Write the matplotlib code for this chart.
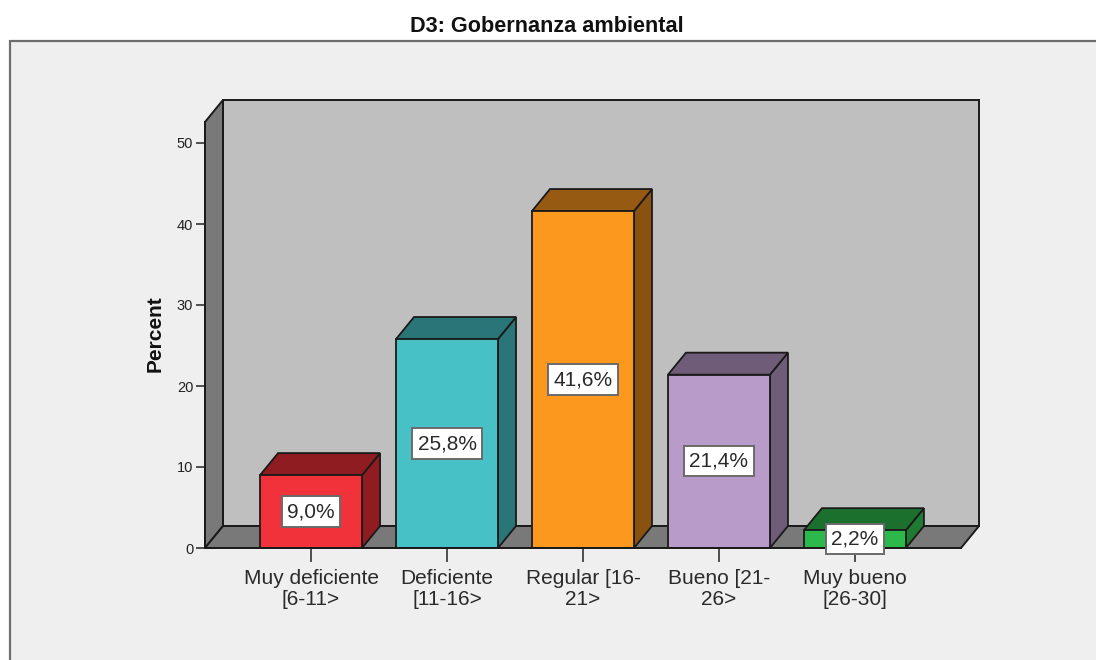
import matplotlib
matplotlib.use('Agg')
from matplotlib import pyplot as plt
from matplotlib.patches import Polygon, Rectangle

categories = ['Muy deficiente\n[6-11>', 'Deficiente\n[11-16>', 'Regular [16-\n21>', 'Bueno [21-\n26>', 'Muy bueno\n[26-30]']
percent = [9.0, 25.8, 41.6, 21.4, 2.2]
front_colors = ['#F2323A', '#48C1C6', '#FD981F', '#B89BC9', '#2DB84B']
top_colors = ['#8E1C20', '#2A7578', '#965A12', '#6E5C78', '#1B702D']
side_colors = ['#8E1C20', '#2A7578', '#8A5210', '#6E5C78', '#1F7A32']
yticks = [0, 10, 20, 30, 40, 50]

W, H = 1096, 660
plt.rcParams['font.family'] = ['Liberation Sans', 'DejaVu Sans']

fig = plt.figure(figsize=(W / 100, H / 100), dpi=100, facecolor='white')

# panel gris de fondo
fig.add_artist(Rectangle((10 / W, -0.01), 1.1, 1 - 41 / H + 0.01, transform=fig.transFigure,
                         facecolor='#EFEFEF', edgecolor='#6E6E6E', linewidth=1.6, zorder=-1))
fig.text(547 / W, 1 - 26 / H, 'D3: Gobernanza ambiental', ha='center', va='center',
         fontsize=15.6, fontweight='bold', color='#111111')

ax = fig.add_axes([205 / W, 1 - 548 / H, 756 / W, 426 / H])
ax.patch.set_alpha(0)
xmin, xmax = -0.78, 4.78
ymax = 426 / 8.1
ax.set_xlim(xmin, xmax)
ax.set_ylim(0, ymax)

# profundidad 3D
dx = 18 / 136
dy = 22 / 8.1
edge = '#1A1A1A'

ax.add_patch(Polygon([(xmin + dx, dy), (xmax + dx, dy), (xmax + dx, ymax + dy), (xmin + dx, ymax + dy)],
                     facecolor='#BFBFBF', edgecolor=edge, linewidth=1.4, clip_on=False, zorder=1))
ax.add_patch(Polygon([(xmin, 0), (xmin + dx, dy), (xmin + dx, ymax + dy), (xmin, ymax)],
                     facecolor='#797979', edgecolor=edge, linewidth=1.4, clip_on=False, zorder=1))
ax.add_patch(Polygon([(xmin, 0), (xmax, 0), (xmax + dx, dy), (xmin + dx, dy)],
                     facecolor='#797979', edgecolor=edge, linewidth=1.4, clip_on=False, zorder=1))

width = 0.75
for i, v in enumerate(percent):
    l, r = i - width / 2, i + width / 2
    ax.add_patch(Polygon([(r, 0), (r + dx, dy), (r + dx, v + dy), (r, v)],
                         facecolor=side_colors[i], edgecolor=edge, linewidth=1.3, clip_on=False, zorder=2))
    ax.add_patch(Polygon([(l, v), (r, v), (r + dx, v + dy), (l + dx, v + dy)],
                         facecolor=top_colors[i], edgecolor=edge, linewidth=1.3, clip_on=False, zorder=2))
    ax.bar(i, v, width=width, color=front_colors[i], edgecolor=edge, linewidth=1.3, zorder=3)
    ax.text(i, v / 2, f'{v:.1f}%'.replace('.', ','), ha='center', va='center', fontsize=15, color='#2A2A2A', zorder=5,
            bbox=dict(boxstyle='square,pad=0.27', facecolor='white', edgecolor='#6A6A6A', linewidth=1.4))

for s in ['top', 'right']:
    ax.spines[s].set_visible(False)
for s in ['left', 'bottom']:
    ax.spines[s].set_color(edge)
    ax.spines[s].set_linewidth(1.4)
    ax.spines[s].set_zorder(4)

ax.set_yticks(yticks)
ax.tick_params(axis='y', length=6.5, width=1.2, color='#333333', labelsize=10.5, labelcolor='#222222', pad=2)
ax.set_xticks(range(len(categories)))
ax.set_xticklabels(categories, linespacing=1.15)
ax.tick_params(axis='x', length=10, width=1.2, color='#333333', labelsize=15, labelcolor='#2A2A2A', pad=5)

fig.text(155 / W, 1 - 334 / H, 'Percent', rotation=90, ha='center', va='center',
         fontsize=15, fontweight='bold', color='#111111')

fig.savefig('out.png', dpi=100)
